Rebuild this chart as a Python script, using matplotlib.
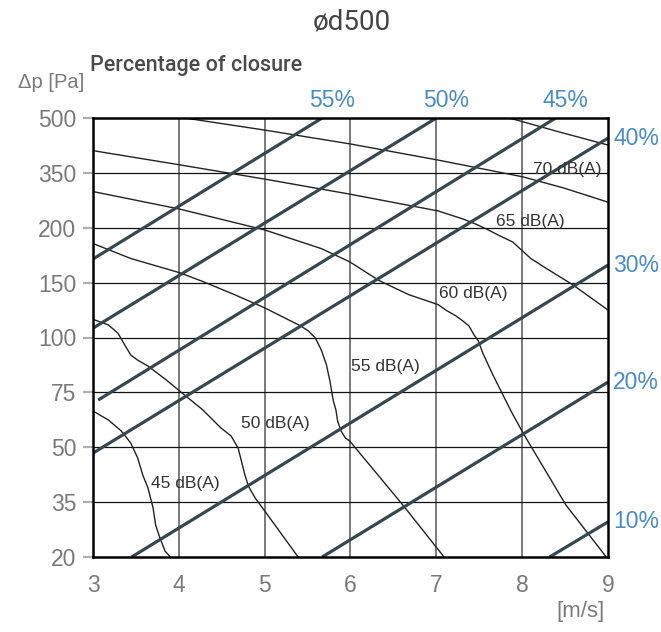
import numpy as np
import matplotlib
matplotlib.use("Agg")
import matplotlib.pyplot as plt
import matplotlib.transforms as mtransforms
from matplotlib import font_manager

plt.rcParams['font.family'] = ['Liberation Sans', 'DejaVu Sans']

# ---------------- data ----------------
title = "ød500"
x_ticks = [3, 4, 5, 6, 7, 8, 9]
y_ticks = [20, 35, 50, 75, 100, 150, 200, 350, 500]

# Percentage of closure lines (straight on the chart)
closure_labels = ["55%", "50%", "45%", "40%", "30%", "20%", "10%"]
closure_x = [[3.0, 5.67], [3.0, 7.0], [3.06, 8.39], [3.0, 9.0],
             [3.45, 9.0], [5.67, 9.0], [8.32, 9.0]]
closure_y = [[171.5, 500], [108.5, 500], [71.5, 500], [48.4, 445],
             [20, 166], [20, 79.7], [20, 29.6]]

# Sound level curves
db75_x = [7.85, 8.43, 9.0]
db75_y = [500, 462, 426]

db70_x = [4.07, 5.0, 6.0, 7.02, 8.01, 8.48, 9.0]
db70_y = [500, 467, 429, 385, 339, 309, 270]

db65_x = [3.02, 4.01, 5.0, 5.99, 7.02, 7.31, 7.46, 7.58, 7.73, 7.89, 8.10, 8.28, 8.59, 9.0]
db65_y = [410, 372, 333, 292, 246, 224, 210, 199, 193, 187, 172, 163, 148, 125]

db60_x = [3.02, 4.01, 5.0, 5.66, 5.99, 6.33, 6.68, 7.02, 7.11, 7.23, 7.31, 7.38, 7.44,
          7.49, 7.54, 7.66, 7.87, 8.01, 8.51, 8.98]
db60_y = [298, 251, 198, 181, 169, 152, 139, 130, 125, 119.6, 115, 110.5, 102.3,
          98.4, 93, 82.9, 66.5, 56.5, 34.2, 20]

db55_x = [3.02, 3.44, 4.01, 4.28, 4.65, 5.0, 5.42, 5.51, 5.59, 5.66, 5.72, 5.76, 5.80,
          5.83, 5.85, 5.89, 5.94, 5.99, 6.03, 6.61, 7.09]
db55_y = [185, 172, 159, 151, 139, 127, 110.5, 105.9, 99.8, 94.3, 87.5, 80.2, 71.1,
          67, 61.9, 57.4, 54.2, 52.9, 51, 34.2, 20]

db50_x = [3.02, 3.18, 3.29, 3.37, 3.44, 3.52, 3.64, 3.84, 4.01, 4.28, 4.49, 4.61, 4.69,
          4.72, 4.77, 4.81, 4.89, 5.0, 5.39]
db50_y = [116, 111.4, 104, 96.6, 92, 89.7, 87, 81.1, 75.6, 67, 58.8, 55.1, 49.8,
          47.1, 42.4, 39.4, 36.1, 32.6, 20]

db45_x = [3.0, 3.18, 3.33, 3.44, 3.52, 3.58, 3.64, 3.70, 3.73, 3.78, 3.84, 3.9]
db45_y = [66.5, 62.4, 57.4, 51.9, 47.1, 42.4, 38.9, 33.4, 28.7, 25.2, 21.6, 20]

db_labels = ["70 dB(A)", "65 dB(A)", "60 dB(A)", "55 dB(A)", "50 dB(A)", "45 dB(A)"]

# ---------------- figure ----------------
names = {f.name for f in font_manager.fontManager.ttflist}
med_fam = ['Roboto', 'Liberation Sans', 'DejaVu Sans'] if 'Roboto' in names else ['Liberation Sans', 'DejaVu Sans']
reg_fam = ['Liberation Sans', 'DejaVu Sans']

fig = plt.figure(figsize=(6.61, 6.32), dpi=100)
ax = fig.add_axes([93/661, 75/632, 515/661, 439/632])

idx = np.arange(len(y_ticks), dtype=float)
yt = np.array(y_ticks, dtype=float)
fwd = lambda v: np.interp(v, yt, idx)
inv = lambda v: np.interp(v, idx, yt)
ax.set_yscale('function', functions=(fwd, inv))
ax.set_xlim(3, 9)
ax.set_ylim(20, 500)

# grid
for xv in x_ticks[1:-1]:
    ax.axvline(xv, color='#7a7a7a', lw=1.4, zorder=1)
for yv in y_ticks[1:-1]:
    ax.axhline(yv, color='#111111', lw=0.9, zorder=1)

# closure lines
line_col = '#37474f'
for xs, ys in zip(closure_x, closure_y):
    ax.plot(xs, ys, color=line_col, lw=2.3, solid_capstyle='butt', zorder=3)

# sound curves
curve_col = '#222222'
for xs, ys in [(db75_x, db75_y), (db70_x, db70_y), (db65_x, db65_y), (db60_x, db60_y),
               (db55_x, db55_y), (db50_x, db50_y), (db45_x, db45_y)]:
    ax.plot(xs, ys, color=curve_col, lw=1.0, zorder=2, solid_joinstyle='round')

# dB labels
db_pos = [(8.53, 360), (8.10, 218), (7.43, 140.5), (6.41, 87), (5.12, 60.6), (4.08, 40.2)]
for lab, (px, py) in zip(db_labels, db_pos):
    ax.text(px, py, lab, fontsize=12.5, color='#333333', ha='center', va='center',
            family=reg_fam, zorder=4)

# percentage labels
blue = '#4a8cc2'
trans_top = mtransforms.blended_transform_factory(ax.transData, ax.transAxes)
trans_right = mtransforms.blended_transform_factory(ax.transAxes, ax.transData)
for lab, xs, ys in zip(closure_labels, closure_x, closure_y):
    if ys[-1] >= 500:
        ax.text(xs[-1] + 0.11, 1.041, lab, transform=trans_top, color=blue,
                fontsize=16.5, ha='center', va='center', clip_on=False, family=reg_fam)
    else:
        ax.text(1.01, ys[-1], lab, transform=trans_right, color=blue,
                fontsize=16.5, ha='left', va='center', clip_on=False, family=reg_fam)

# ticks
ax.set_xticks(x_ticks)
ax.set_xticklabels([str(v) for v in x_ticks])
ax.set_yticks(y_ticks)
ax.set_yticklabels([str(v) for v in y_ticks])
ax.minorticks_off()
ax.tick_params(axis='x', length=0, pad=12, labelsize=16.5, labelcolor='#7a7a7a')
ax.tick_params(axis='y', length=7, width=1.6, color='#b0b0b0', pad=5,
               labelsize=16.5, labelcolor='#7a7a7a')

for sp in ax.spines.values():
    sp.set_color('black')
    sp.set_linewidth(1.8)
    sp.set_zorder(5)

# texts
fig.text(352/661, 1 - 22/632, title, fontsize=20, color='#444444', ha='center', va='center',
         family=med_fam)
fig.text(90/661, 1 - 65/632, "Percentage of closure", fontsize=15.5, color='#4a4a4a',
         ha='left', va='center', family=med_fam, fontweight='medium')
fig.text(51/661, 1 - 82/632, "Δp [Pa]", fontsize=14.5, color='#7a7a7a', ha='center', va='center',
         family=reg_fam)
fig.text(605/661, 1 - 612/632, "[m/s]", fontsize=16, color='#7a7a7a', ha='right', va='center',
         family=reg_fam)

fig.savefig("out.png", dpi=100)
